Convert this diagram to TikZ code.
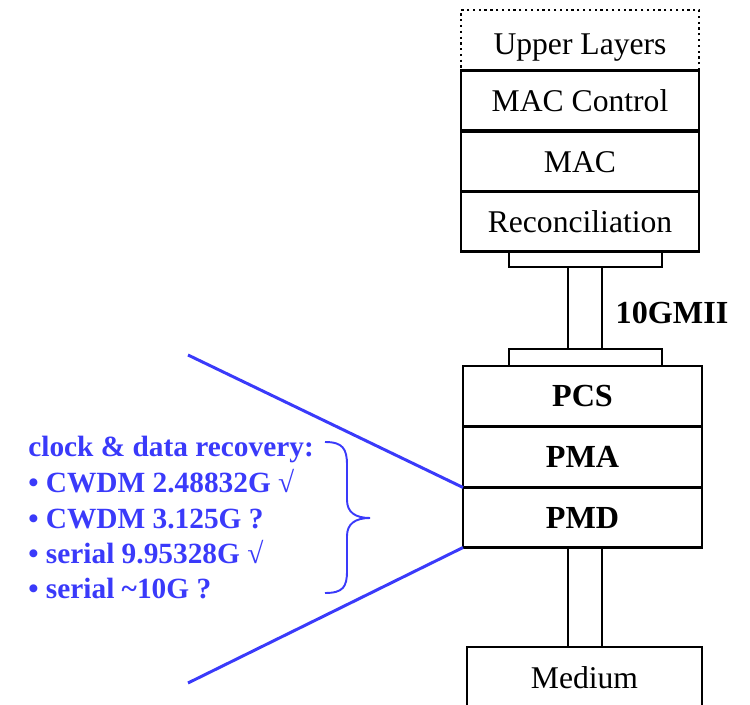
\documentclass[tikz,border=0pt]{standalone}
\usepackage{fontspec}
\setmainfont{Liberation Serif}
\definecolor{cdrblue}{RGB}{58,58,250}
\tikzset{
    layer/.style={draw,line width=1.3pt,inner sep=0pt,outer sep=0pt,minimum height=1.2cm,text height=16pt,text depth=4pt,font=\fontsize{18}{20}\selectfont},
    toplayer/.style={layer,minimum width=4.76cm},
    phylayer/.style={layer,minimum width=4.78cm,font=\fontsize{18.3}{20}\selectfont\bfseries},
    cdrtext/.style={anchor=base west,inner sep=0pt,text=cdrblue,font=\fontsize{16.7}{19.6}\selectfont\bfseries}
}
\begin{document}
\begin{tikzpicture}[x=0.02cm,y=-0.02cm]
                \useasboundingbox (0,0) rectangle (750,705);
                % MAC side
                \node[toplayer,dotted,text height=18.3pt,text depth=1.7pt] (upper) at (580,40) {Upper Layers};
                \node[toplayer] (macctl) at (580,100.5) {MAC Control};
                \node[toplayer] (mac) at (580,161.5) {MAC};
                \node[toplayer] (rec) at (580,221.5) {Reconciliation};
                % 10GMII
                \draw[line width=1.3pt] (509,251.5) rectangle (662,267);
                \draw[line width=1.3pt] (568,267) rectangle (602,349);
                \draw[line width=1.3pt] (509,349) rectangle (662,366);
                \node[font=\fontsize{18.3}{20}\selectfont\bfseries] (xgmii) at (672,313) {10GMII};
                % PHY
                \node[phylayer] (pcs) at (582.5,396) {PCS};
                \node[phylayer] (pma) at (582.5,457) {PMA};
                \node[phylayer] (pmd) at (582.5,517.5) {PMD};
                \draw[line width=1.3pt] (568,547.5) rectangle (602,647);
                \node[layer,minimum width=4.7cm,minimum height=1.24cm] (medium) at (584.5,678) {Medium};
                % zoom on PMD
                \coordinate (zt) at (188,355);
                \coordinate (zb) at (188,683);
                \draw[cdrblue,line width=1.7pt] (zt) -- (pmd.north west);
                \draw[cdrblue,line width=1.7pt] (pmd.south west) -- (zb);
                \draw[cdrblue,line width=1.1pt] (325,442) .. controls (343,442) and (347,449) .. (347,465) -- (347,500)
                    .. controls (347,512) and (355,518) .. (370,518)
                    .. controls (355,518) and (347,524) .. (347,536) -- (347,571)
                    .. controls (347,587) and (343,593) .. (325,593);
                \node[cdrtext] (cdr) at (28,457) {clock \& data recovery:};
                \node[cdrtext] (cdra) at (28,492.5) {• CWDM 2.48832G √};
                \node[cdrtext] (cdrb) at (28,528) {• CWDM 3.125G ?};
                \node[cdrtext] (cdrc) at (28,563) {• serial 9.95328G √};
                \node[cdrtext] (cdrd) at (28,598) {• serial \textasciitilde10G ?};
            \end{tikzpicture}
\end{document}
